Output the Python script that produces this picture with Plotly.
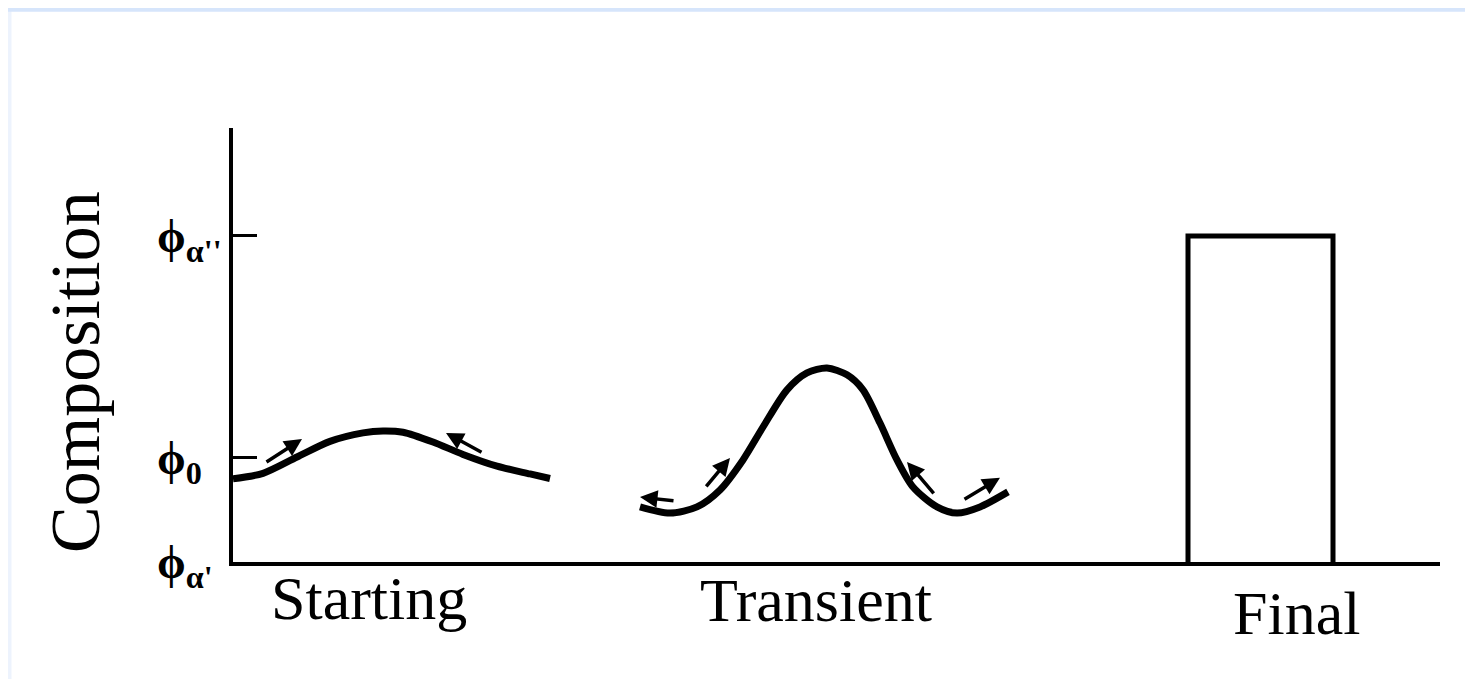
import plotly.graph_objects as go

# ---- data (x: position along specimen, y: composition) ----
start_x = [0.00, 0.30, 0.64, 0.97, 1.30, 1.50, 1.70, 2.00, 2.30, 2.64, 2.97, 3.17]
start_y = [0.255, 0.272, 0.322, 0.370, 0.396, 0.402, 0.398, 0.368, 0.330, 0.294, 0.270, 0.256]

trans_x = [4.07, 4.37, 4.64, 4.87, 5.10, 5.30, 5.54, 5.74, 5.94, 6.14, 6.30, 6.47, 6.64, 6.80, 7.04, 7.24, 7.47, 7.75]
trans_y = [0.169, 0.150, 0.169, 0.221, 0.313, 0.414, 0.528, 0.580, 0.595, 0.574, 0.528, 0.426, 0.313, 0.230, 0.169, 0.150, 0.169, 0.215]

final_x = [9.55, 9.55, 11.0, 11.0]
final_y = [0.0, 1.0, 1.0, 0.0]

# diffusion arrows: (tail_x, tail_y, head_x, head_y)
arrow_tail_x = [0.32, 2.50, 4.42, 4.72, 7.02, 7.30]
arrow_tail_y = [0.304, 0.334, 0.187, 0.227, 0.206, 0.190]
arrow_head_x = [0.69, 2.13, 4.07, 4.97, 6.74, 7.67]
arrow_head_y = [0.377, 0.396, 0.199, 0.319, 0.307, 0.258]

tick_vals = [0.0, 0.319, 1.0]
tick_text = ["<b>ϕ</b><sub><b>α'</b></sub>", "<b>ϕ</b><sub><b>0</b></sub>", "<b>ϕ</b><sub><b>α''</b></sub>"]

stage_labels = ["Starting", "Transient", "Final"]
stage_x = [1.36, 5.83, 10.63]
stage_y = [-0.083, -0.088, -0.1175]

SERIF = "Liberation Serif, Times New Roman, serif"

fig = go.Figure()
for xs, ys, shp, w in [(start_x, start_y, "spline", 7), (trans_x, trans_y, "spline", 7), (final_x, final_y, "linear", 5)]:
    fig.add_trace(go.Scatter(x=xs, y=ys, mode="lines",
                             line=dict(color="black", width=w, shape=shp, smoothing=0.8),
                             hoverinfo="skip", showlegend=False))

annotations = []
for tx, ty, hx, hy in zip(arrow_tail_x, arrow_tail_y, arrow_head_x, arrow_head_y):
    annotations.append(dict(x=hx, y=hy, ax=tx, ay=ty, xref="x", yref="y", axref="x", ayref="y",
                            text="", showarrow=True, arrowhead=2, arrowsize=1.0,
                            arrowwidth=3.5, arrowcolor="black"))

for v, t in zip(tick_vals, tick_text):
    annotations.append(dict(x=-0.0646, y=v, xref="paper", yref="y", text=t, showarrow=False,
                            xanchor="left", yanchor="middle", yshift=-4,
                            font=dict(family=SERIF, size=46, color="black")))

for lab, lx, ly in zip(stage_labels, stage_x, stage_y):
    annotations.append(dict(x=lx, y=ly, xref="x", yref="paper", text=lab, showarrow=False,
                            xanchor="center", yanchor="middle",
                            font=dict(family=SERIF, size=62, color="black")))

annotations.append(dict(x=-0.130, y=0.438, xref="paper", yref="paper", text="Composition",
                        textangle=-90, showarrow=False, xanchor="center", yanchor="middle",
                        font=dict(family=SERIF, size=70, color="black")))

# faint blue scan border (top and left)
shapes = [
    dict(type="rect", xref="paper", yref="paper", x0=-0.19, x1=-0.1835, y0=-0.3, y1=1.3,
         fillcolor="#edf3fd", line=dict(width=0), layer="below"),
    dict(type="rect", xref="paper", yref="paper", x0=-0.19, x1=1.1, y0=1.268, y1=1.3,
         fillcolor="#d6e5fb", line=dict(width=0), layer="below"),
]

# page body has an 8px default margin, so the figure is sized to fit inside it
fig.update_layout(
    width=1465, height=671,
    margin=dict(l=225, r=33, t=120, b=117),
    paper_bgcolor="white", plot_bgcolor="white",
    annotations=annotations, shapes=shapes,
    xaxis=dict(range=[0, 12.07], showgrid=False, zeroline=False, showticklabels=False,
               ticks="", showline=True, linecolor="black", linewidth=4),
    yaxis=dict(range=[0, 1.331], showgrid=False, zeroline=False, showticklabels=False,
               tickvals=tick_vals, ticks="inside", ticklen=24, tickwidth=3, tickcolor="black",
               showline=True, linecolor="black", linewidth=4),
)

fig.write_html("out.html")
